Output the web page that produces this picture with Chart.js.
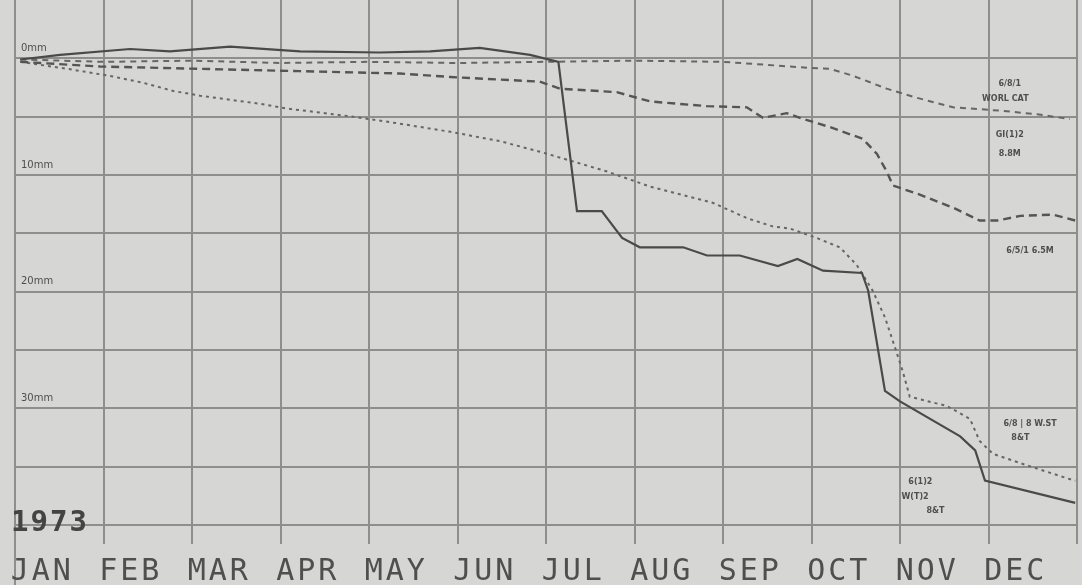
<!DOCTYPE html>
<html>
<head>
<meta charset="utf-8">
<script src="https://cdn.jsdelivr.net/npm/chart.js@4/dist/chart.umd.min.js"></script>
<style>
  html, body { margin: 0; padding: 0; background: #d6d6d4; }
  #wrap { width: 1082px; height: 585px; }
</style>
</head>
<body>
<div id="wrap"><canvas id="chart" width="1082" height="585"></canvas></div>
<script>
// 1973 settlement record, x = months since 1 Jan, y = depth in mm
const months = ["JAN", "FEB", "MAR", "APR", "MAY", "JUN", "JUL", "AUG", "SEP", "OCT", "NOV", "DEC"];
const yearLabel = "1973";
const depthLabels = [0, 10, 20, 30];

const solidMonth = [0.06, 0.51, 1.30, 1.75, 2.43, 3.22, 4.12, 4.69, 5.25, 5.82, 6.14, 6.35, 6.63, 6.86, 7.06, 7.55, 7.82, 8.19, 8.62, 8.84, 9.13, 9.57, 9.64, 9.83, 10.0, 10.68, 10.85, 10.96, 11.98];
const solidDepth = [0.1, -0.3, -0.8, -0.6, -1.0, -0.6, -0.5, -0.6, -0.9, -0.3, 0.3, 13.1, 13.1, 15.4, 16.2, 16.2, 16.9, 16.9, 17.8, 17.2, 18.2, 18.4, 19.9, 28.5, 29.4, 32.4, 33.6, 36.2, 38.1];

const topMonth = [0.06, 1.0, 2.0, 3.0, 4.0, 5.0, 6.0, 7.0, 8.0, 8.95, 9.21, 9.47, 9.85, 10.15, 10.6, 11.16, 11.55, 11.92];
const topDepth = [0.1, 0.3, 0.2, 0.4, 0.3, 0.4, 0.3, 0.2, 0.3, 0.8, 0.9, 1.5, 2.6, 3.3, 4.2, 4.5, 4.8, 5.2];

const midMonth = [0.06, 0.96, 2.09, 3.22, 4.35, 4.92, 5.93, 6.16, 6.80, 7.18, 7.82, 8.27, 8.45, 8.72, 8.87, 9.21, 9.58, 9.74, 9.85, 9.92, 10.23, 10.60, 10.90, 11.10, 11.36, 11.73, 11.98];
const midDepth = [0.3, 0.7, 0.9, 1.1, 1.3, 1.6, 2.0, 2.6, 2.9, 3.7, 4.1, 4.2, 5.1, 4.7, 5.1, 5.9, 6.9, 8.2, 9.7, 10.9, 11.7, 12.8, 13.9, 13.9, 13.5, 13.4, 13.9];

const dotMonth = [0.06, 0.59, 1.07, 1.45, 1.79, 2.09, 2.77, 3.07, 3.82, 4.35, 4.92, 5.48, 5.93, 6.69, 7.18, 7.89, 8.27, 8.56, 8.76, 9.06, 9.32, 9.51, 9.69, 9.83, 9.94, 10.03, 10.11, 10.53, 10.79, 10.90, 11.05, 11.44, 11.89, 11.98];
const dotDepth = [0.3, 0.9, 1.5, 2.1, 2.8, 3.2, 3.9, 4.3, 5.0, 5.6, 6.3, 7.1, 8.0, 9.7, 11.0, 12.4, 13.7, 14.4, 14.6, 15.4, 16.2, 17.7, 19.9, 22.2, 24.7, 26.8, 29.0, 29.8, 30.9, 32.8, 33.9, 34.9, 36.0, 36.2];

// hand written gauge notes, placed in month / mm
const notes = [
  ["6/8/1", 11.24, 2.2], ["WORL CAT", 11.19, 3.5],
  ["GI(1)2", 11.24, 6.6], ["8.8M", 11.24, 8.2],
  ["6/5/1 6.5M", 11.47, 16.5],
  ["6/8 | 8 W.ST", 11.47, 31.3], ["8&T", 11.36, 32.5],
  ["6(1)2", 10.23, 36.3], ["W(T)2", 10.17, 37.6], ["8&T", 10.4, 38.8]
];

const ink = "#4f4f4f";
const gridInk = "#8e8e8c";

const pts = (xs, ys) => xs.map((x, i) => ({ x, y: ys[i] }));

const line = (data, dash, width, color) => ({
  data,
  borderColor: color,
  borderWidth: width,
  borderDash: dash,
  pointRadius: 0,
  tension: 0,
  fill: false
});

const paper = {
  id: "paper",
  beforeDraw(chart) {
    const { ctx, width, height } = chart;
    ctx.save();
    ctx.fillStyle = "#d6d6d4";
    ctx.fillRect(0, 0, width, height);
    ctx.restore();
  },
  afterDraw(chart) {
    const { ctx, chartArea } = chart;
    const x = chart.scales.x;
    const y = chart.scales.y;
    ctx.save();
    // left edge carried down past the month row
    ctx.strokeStyle = gridInk;
    ctx.lineWidth = 2;
    ctx.beginPath();
    ctx.moveTo(chartArea.left, chartArea.bottom);
    ctx.lineTo(chartArea.left, chart.height);
    ctx.stroke();

    ctx.fillStyle = ink;
    ctx.font = "10px 'DejaVu Sans'";
    ctx.textBaseline = "bottom";
    ctx.textAlign = "left";
    depthLabels.forEach(d => {
      ctx.fillText(d + "mm", x.left + 6, y.getPixelForValue(d) - 5);
    });

    ctx.font = "bold 8px 'DejaVu Sans'";
    ctx.textAlign = "center";
    ctx.textBaseline = "middle";
    notes.forEach(([t, m, d]) => {
      ctx.fillText(t, x.getPixelForValue(m), y.getPixelForValue(d));
    });

    // stencil month row, spaced out and sitting a little left of each cell centre
    ctx.letterSpacing = "3px";
    ctx.font = "30px 'DejaVu Sans Mono'";
    ctx.textBaseline = "alphabetic";
    months.forEach((m, i) => {
      ctx.fillText(m, x.getPixelForValue(i + 0.5) - 17, chart.height - 5);
    });

    ctx.letterSpacing = "2px";
    ctx.font = "bold 29px 'DejaVu Sans Mono'";
    ctx.textAlign = "left";
    ctx.fillStyle = "#444";
    ctx.fillText(yearLabel, x.left - 4, y.getPixelForValue(40) + 6);
    ctx.restore();
  }
};

new Chart("chart", {
  type: "line",
  data: {
    datasets: [
      line(pts(solidMonth, solidDepth), [], 2.2, "#4a4a4a"),
      line(pts(topMonth, topDepth), [6, 5], 2, "#666"),
      line(pts(midMonth, midDepth), [8, 5], 2.4, "#555"),
      line(pts(dotMonth, dotDepth), [3, 4], 2, "#666")
    ]
  },
  plugins: [paper],
  options: {
    responsive: false,
    animation: false,
    layout: { padding: { left: 15, right: 5, top: 0, bottom: 41 } },
    plugins: { legend: { display: false }, tooltip: { enabled: false } },
    scales: {
      x: {
        type: "linear",
        min: 0,
        max: 12,
        afterBuildTicks: scale => {
          scale.ticks = months.map((m, i) => ({ value: i }));
          scale.ticks.push({ value: 12 });
        },
        border: { display: false },
        grid: { color: gridInk, lineWidth: 2, tickLength: 19 },
        ticks: { display: false }
      },
      y: {
        type: "linear",
        reverse: true,
        min: -5,
        max: 40,
        afterBuildTicks: scale => {
          scale.ticks = [];
          for (let v = 0; v <= 40; v += 5) scale.ticks.push({ value: v });
        },
        border: { display: false },
        grid: { color: gridInk, lineWidth: 2, drawTicks: false },
        ticks: { display: false }
      }
    }
  }
});
</script>
</body>
</html>
